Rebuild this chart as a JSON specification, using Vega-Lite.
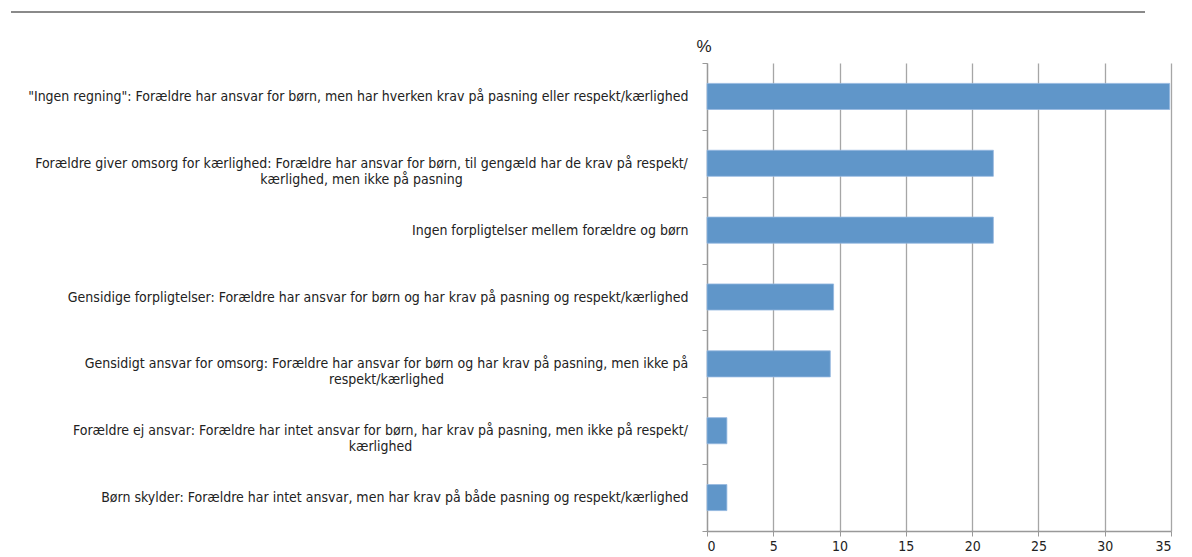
{
  "$schema": "https://vega.github.io/schema/vega-lite/v6.json",
  "autosize": "none",
  "width": 464,
  "height": 468,
  "padding": {"left": 707, "top": 63, "right": 21, "bottom": 26},
  "background": "white",
  "config": {"view": {"stroke": null}},
  "data": {"values": [
    {"kategori": "\"Ingen regning\": Forældre har ansvar for børn, men har hverken krav på pasning eller respekt/kærlighed", "pct": 34.9},
    {"kategori": "Forældre giver omsorg for kærlighed: Forældre har ansvar for børn, til gengæld har de krav på respekt/|kærlighed, men ikke på pasning", "pct": 21.6},
    {"kategori": "Ingen forpligtelser mellem forældre og børn", "pct": 21.6},
    {"kategori": "Gensidige forpligtelser: Forældre har ansvar for børn og har krav på pasning og respekt/kærlighed", "pct": 9.55},
    {"kategori": "Gensidigt ansvar for omsorg: Forældre har ansvar for børn og har krav på pasning, men ikke på|respekt/kærlighed", "pct": 9.3},
    {"kategori": "Forældre ej ansvar: Forældre har intet ansvar for børn, har krav på pasning, men ikke på respekt/|kærlighed", "pct": 1.5},
    {"kategori": "Børn skylder: Forældre har intet ansvar, men har krav på både pasning og respekt/kærlighed", "pct": 1.5}
  ]},
  "layer": [
    {
      "mark": {"type": "bar", "color": "#6096c9", "stroke": "#94b8df", "strokeWidth": 0.8, "height": {"band": 0.39}},
      "encoding": {
        "y": {
          "field": "kategori", "type": "nominal", "sort": null,
          "scale": {"paddingInner": 0, "paddingOuter": 0},
          "axis": {
            "title": null,
            "labelExpr": "datum.value ? split(datum.value, '|') : ''",
            "labelFont": "DejaVu Sans Condensed, Liberation Sans Narrow, Liberation Sans",
            "labelFontSize": 14,
            "labelColor": "#222",
            "labelLineHeight": 16,
            "labelLimit": 700,
            "labelAlign": {
              "condition": {"test": "datum.value && length(split(datum.value, '|')) > 1", "value": "center"},
              "value": "right"
            },
            "labelPadding": {
              "condition": [
                {"test": "datum.value && substring(datum.value, 0, 14) == 'Forældre giver'", "value": 341},
                {"test": "datum.value && substring(datum.value, 0, 16) == 'Gensidigt ansvar'", "value": 316},
                {"test": "datum.value && substring(datum.value, 0, 11) == 'Forældre ej'", "value": 322}
              ],
              "value": 14
            },
            "tickBand": "extent",
            "tickSize": 5,
            "tickColor": "#999",
            "domainColor": "#999",
            "domainWidth": 1.3,
            "grid": false
          }
        },
        "x": {
          "field": "pct", "type": "quantitative",
          "scale": {"domain": [0, 35], "nice": false},
          "axis": {
            "title": "%",
            "titleX": -11,
            "titleY": -480,
            "titleAlign": "left",
            "titleBaseline": "alphabetic",
            "titleFont": "Liberation Sans",
            "titleFontSize": 17,
            "titleFontWeight": "normal",
            "titleColor": "#222",
            "values": [0, 5, 10, 15, 20, 25, 30, 35],
            "grid": true,
            "gridColor": "#a6a6a6",
            "gridWidth": 1.3,
            "domainColor": "#999",
            "domainWidth": 1.3,
            "tickColor": "#999",
            "tickSize": 5,
            "labelPadding": 3,
            "labelFont": "DejaVu Sans Condensed, Liberation Sans Narrow, Liberation Sans",
            "labelFontSize": 14,
            "labelColor": "#222"
          }
        }
      }
    },
    {
      "mark": {"type": "rule", "color": "#8a8a8a", "strokeWidth": 1.5},
      "encoding": {
        "x": {"value": -696},
        "x2": {"value": 438},
        "y": {"value": -51}
      }
    }
  ]
}
